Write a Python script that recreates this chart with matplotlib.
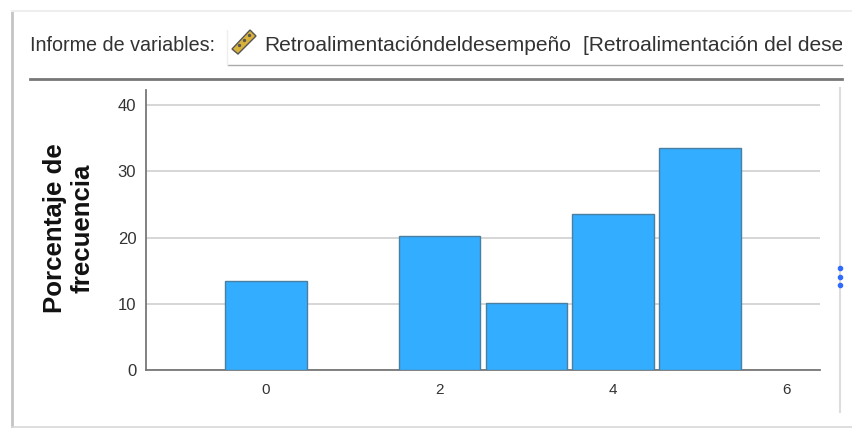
import matplotlib
matplotlib.use("Agg")
import matplotlib.pyplot as plt
from matplotlib.patches import Polygon, Rectangle

categories = [0, 2, 3, 4, 5]
percentages = [13.4, 20.2, 10.1, 23.5, 33.5]
x_ticks = [0, 2, 4, 6]
y_ticks = [0, 10, 20, 30, 40]

W, H = 853, 428
TEXT = "#333333"
plt.rcParams["font.family"] = ["Liberation Sans", "DejaVu Sans"]


def main():
    fig = plt.figure(figsize=(W / 100, H / 100), dpi=100)

    # overlay in pixel coordinates for the window decoration
    bg = fig.add_axes([0, 0, 1, 1])
    bg.set_xlim(0, W)
    bg.set_ylim(H, 0)
    bg.axis("off")

    bg.plot([12, 12], [11, 427], color="#c4c4c4", lw=2)
    bg.plot([12, W], [10.5, 10.5], color="#eeeeee", lw=1.5)
    bg.plot([12, W], [426.5, 426.5], color="#d8d8d8", lw=1.2)
    bg.plot([30, 842], [79, 79], color="#777777", lw=2)
    bg.plot([228, 842], [65, 65], color="#aaaaaa", lw=1)
    bg.plot([227, 227], [30, 65], color="#eeeeee", lw=1)
    bg.plot([840.5, 840.5], [88, 412], color="#dddddd", lw=1.5)
    bg.scatter([840, 840, 840], [268, 277, 285], s=9, color="#2f6bff", zorder=3)

    bg.text(30, 45, "Informe de variables:", fontsize=14.2, color=TEXT, va="center")
    bg.text(264, 45, "Retroalimentacióndeldesempeño", fontsize=15.1, color=TEXT, va="center")
    # the reference cuts this one off at the end of the field
    clip = Rectangle((0, 0), 842, H, transform=bg.transData)
    t = bg.text(583, 45, "[Retroalimentación del desempeño]", fontsize=15.1,
                color=TEXT, va="center", clip_on=True)
    t.set_clip_path(clip)

    # ruler icon
    bg.add_patch(Polygon([[232, 49], [250, 30], [256, 36], [238, 54]], closed=True,
                         facecolor="#d9b23a", edgecolor="#555555", lw=1))
    bg.scatter([239, 244, 249], [45, 40, 35], s=2, color="#555555", zorder=3)

    bg.text(55, 228, "Porcentaje de", fontsize=18.6, fontweight="bold", rotation=90,
            ha="center", va="center", color="#111111")
    bg.text(83, 228, "frecuencia", fontsize=18.6, fontweight="bold", rotation=90,
            ha="center", va="center", color="#111111")

    # chart area
    left, right, top, bottom = 146, 820, 90, 370
    ax = fig.add_axes([left / W, 1 - bottom / H, (right - left) / W, (bottom - top) / H])
    ax.patch.set_alpha(0)
    ax.bar(categories, percentages, width=0.94, color="#33adff", edgecolor="#4a7f9f",
           linewidth=1, zorder=3)
    ax.set_xlim(-1.38, 6.38)
    ax.set_ylim(0, 42.3)
    ax.set_xticks(x_ticks)
    ax.set_yticks(y_ticks)
    ax.yaxis.grid(True, color="#cfcfcf", lw=1.2, zorder=0)
    ax.set_axisbelow(True)
    ax.tick_params(length=0, labelsize=12, colors=TEXT)
    ax.tick_params(axis="x", pad=9, labelsize=11)
    ax.tick_params(axis="y", pad=7)
    for side in ["top", "right"]:
        ax.spines[side].set_visible(False)
    for side in ["left", "bottom"]:
        ax.spines[side].set_color("#777777")
        ax.spines[side].set_linewidth(1.3)

    fig.savefig("out.png", dpi=100)
    plt.close(fig)


if __name__ == "__main__":
    main()
